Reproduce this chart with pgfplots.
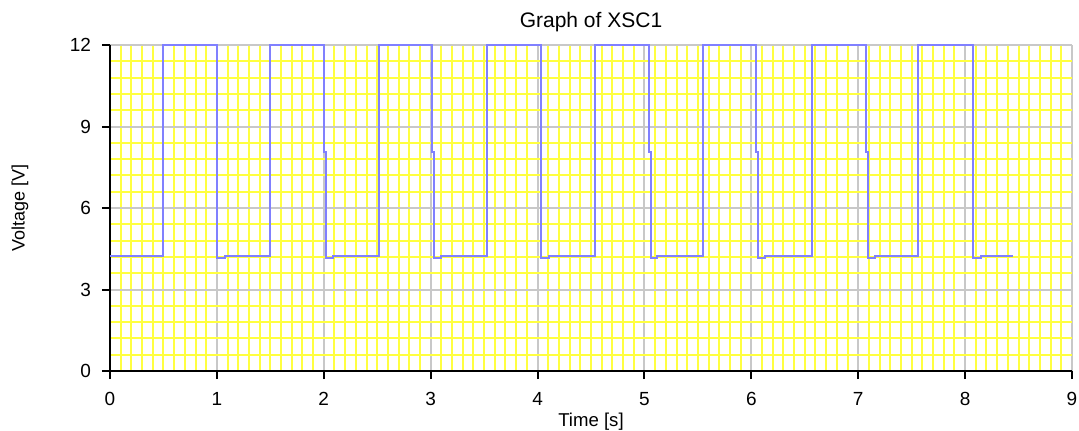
\documentclass[border=0pt]{standalone}
\usepackage{fontspec}
\setmainfont{Liberation Sans}
\usepackage{pgfplots}
\pgfplotsset{compat=1.18}
\definecolor{gridyellow}{RGB}{255,255,64}
\definecolor{gridgray}{RGB}{200,200,200}
\definecolor{sigblue}{RGB}{128,128,255}
\begin{document}
\begin{tikzpicture}
\begin{axis}[name=ax, scale only axis, width=481pt, height=163pt,
  xmin=0, xmax=9, ymin=0, ymax=12,
  enlargelimits=false, clip=false,
  xtick={0,1,...,9}, ytick={0,3,6,9,12},
  minor x tick num=9, minor y tick num=4,
  grid=both,
  major grid style={gridgray, line width=1pt},
  minor grid style={gridyellow, line width=1pt},
  axis lines=left, axis line style={-, black, line width=1pt},
  tick align=outside, major tick length=4pt, minor tick length=0pt,
  major tick style={black, line width=1pt},
  /pgf/number format/assume math mode=true,
  tick label style={font=\fontsize{9.5}{11}\selectfont, black},
  xticklabel style={anchor=north, yshift=-3pt},
  yticklabel style={anchor=east, xshift=-2pt},
  title={Graph of XSC1},
  title style={at={(axis description cs:0.5,1)}, anchor=base, yshift=2.9pt, font=\fontsize{10.5}{12}\selectfont},
  xlabel={Time [s]},
  xlabel style={at={(axis description cs:0.5,0)}, anchor=base, yshift=-27.5pt, font=\fontsize{9.3}{11}\selectfont},
  ylabel={Voltage [V]},
  ylabel style={at={(axis description cs:-0.0936,0.5)}, anchor=center, font=\fontsize{9}{10}\selectfont},
]
\addplot[sigblue, line width=1pt, line join=miter] coordinates {
(0,4.23) (0.496,4.23) (0.496,12) (1.0,12) (1.0,4.15) (1.075,4.15) (1.075,4.23)
(1.497,4.23) (1.497,12) (2.0,12) (2.0,8.06) (2.02,8.06) (2.02,4.15) (2.085,4.15) (2.085,4.23)
(2.516,4.23) (2.516,12) (3.012,12) (3.012,8.06) (3.03,8.06) (3.03,4.15) (3.095,4.15) (3.095,4.23)
(3.527,4.23) (3.527,12) (4.03,12) (4.03,4.15) (4.105,4.15) (4.105,4.23)
(4.537,4.23) (4.537,12) (5.04,12) (5.04,8.06) (5.06,8.06) (5.06,4.15) (5.12,4.15) (5.12,4.23)
(5.547,4.23) (5.547,12) (6.045,12) (6.045,8.06) (6.065,8.06) (6.065,4.15) (6.13,4.15) (6.13,4.23)
(6.567,4.23) (6.567,12) (7.07,12) (7.07,8.06) (7.09,8.06) (7.09,4.15) (7.16,4.15) (7.16,4.23)
(7.558,4.23) (7.558,12) (8.07,12) (8.07,4.15) (8.145,4.15) (8.145,4.23) (8.447,4.23)
};
\end{axis}
\pgfresetboundingbox
\path[use as bounding box] (ax.south west) ++(-55pt,-29.5pt) rectangle ++(539.5pt,215pt);
\end{tikzpicture}
\end{document}
